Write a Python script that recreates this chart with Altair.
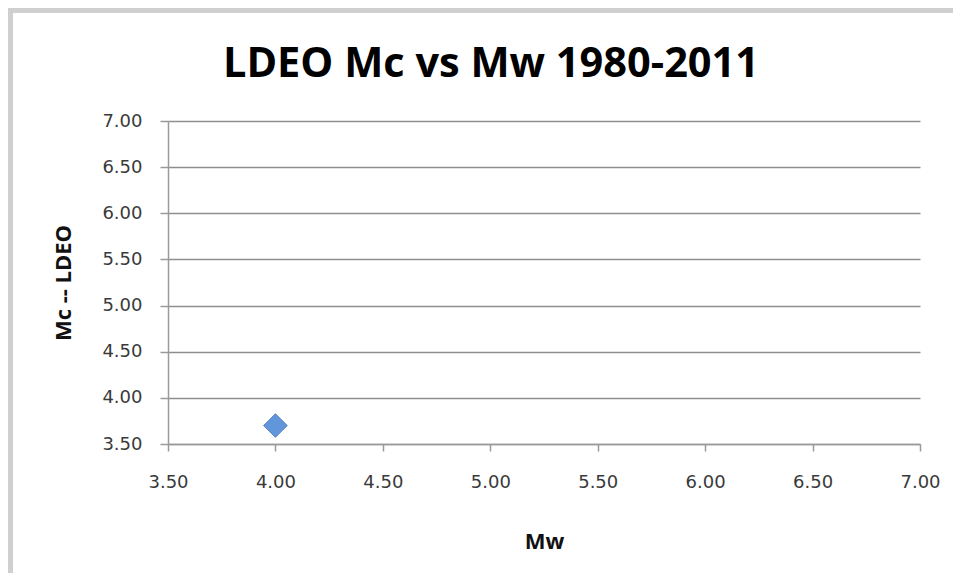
import altair as alt
import pandas as pd

# Data
mw = [4.00]
mc_ldeo = [3.70]
x_ticks = [3.50, 4.00, 4.50, 5.00, 5.50, 6.00, 6.50, 7.00]
y_ticks = [3.50, 4.00, 4.50, 5.00, 5.50, 6.00, 6.50, 7.00]

df = pd.DataFrame({"Mw": mw, "Mc": mc_ldeo})

W, H = 752, 323
PAD = {"left": 160, "top": 113, "right": 33, "bottom": 129}

points = alt.Chart(df).mark_point(
    shape="diamond", filled=True, size=560, color="#6296db",
    stroke="#3f70b8", strokeWidth=0.8, opacity=1,
).encode(
    x=alt.X("Mw:Q",
            scale=alt.Scale(domain=[3.5, 7.0], nice=False, zero=False),
            axis=alt.Axis(values=x_ticks, format=".2f", title="Mw", grid=False,
                          labelFlush=False,
                          domainColor="#9a9a9a", domainWidth=1.5,
                          tickColor="#9a9a9a", tickWidth=1.5, tickSize=7,
                          labelFont="DejaVu Sans", labelFontSize=18, labelColor="#3a3a3a",
                          labelPadding=22,
                          titleFont="Open Sans", titleFontSize=22, titleFontWeight="bold",
                          titleColor="#111111", titleY=97, titleBaseline="middle")),
    y=alt.Y("Mc:Q",
            scale=alt.Scale(domain=[3.5, 7.0], nice=False, zero=False),
            axis=alt.Axis(values=y_ticks, format=".2f", title="Mc -- LDEO", grid=True,
                          labelFlush=False,
                          gridColor="#8e8e8e", gridWidth=1.5,
                          domainColor="#9a9a9a", domainWidth=1.5,
                          tickColor="#9a9a9a", tickWidth=1.5, tickSize=8,
                          labelFont="DejaVu Sans", labelFontSize=18, labelColor="#3a3a3a",
                          labelPadding=18,
                          titleFont="Open Sans", titleFontSize=22, titleFontWeight="bold",
                          titleColor="#111111", titleX=-105, titleY=H / 2,
                          titleAngle=-90, titleAlign="center", titleBaseline="middle")),
)

# decorative panel shadow (left and top edges of the white panel)
left_edge = alt.Chart(df).mark_rule(color="#cfcfcf", strokeWidth=5).encode(
    x=alt.value(-157.5), y=alt.value(-110.5), y2=alt.value(H + 129))
top_edge = alt.Chart(df).mark_rule(color="#cfcfcf", strokeWidth=5).encode(
    x=alt.value(-160), x2=alt.value(W + 33), y=alt.value(-110.5))

chart = alt.layer(points, left_edge, top_edge).properties(
    width=W, height=H,
    autosize=alt.AutoSizeParams(type="none"),
    padding=PAD,
    background="white",
    title=alt.Title("LDEO Mc vs Mw 1980-2011", font="Open Sans", fontSize=41.5,
                    fontWeight="bold", color="#000000", frame="group",
                    baseline="alphabetic", dx=-53, offset=-110),
).configure_view(stroke=None)

chart.save("out.html", embed_options={"renderer": "svg", "actions": False})
